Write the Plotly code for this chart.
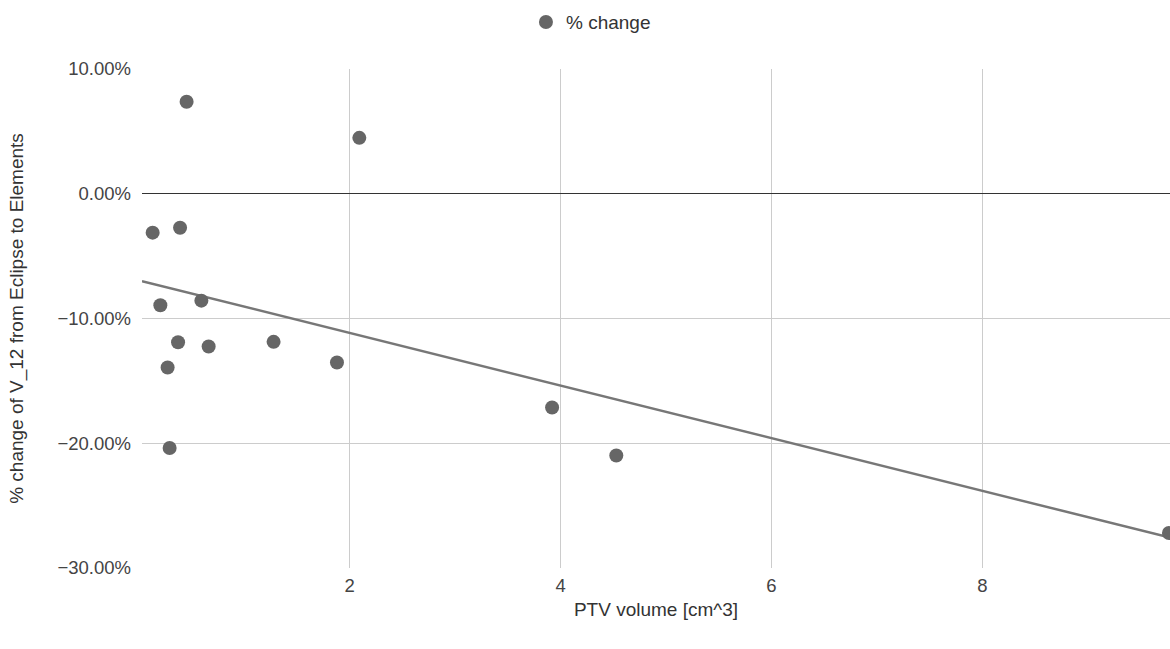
import numpy as np
import plotly.graph_objects as go

# PTV volume [cm^3]
ptv_volume = [0.132, 0.392, 0.205, 0.594, 0.373, 0.663, 1.279, 1.880, 0.274, 0.293,
              0.454, 2.092, 3.920, 4.529, 9.77]
# % change (fraction)
pct_change = [-0.0312, -0.0272, -0.0894, -0.0857, -0.1190, -0.1225, -0.1187, -0.1353,
              -0.1393, -0.2038, 0.0737, 0.0448, -0.1713, -0.2098, -0.2720]

x_range = [0.031, 9.78]
y_ticks = [-0.3, -0.2, -0.1, 0.0, 0.1]
x_ticks = [2, 4, 6, 8]

slope, intercept = np.polyfit(ptv_volume, pct_change, 1)
trend_x = np.array(x_range)
trend_y = slope * trend_x + intercept

fig = go.Figure()
fig.add_trace(go.Scatter(
    x=trend_x, y=trend_y, mode="lines",
    line=dict(color="#777777", width=2.5),
    showlegend=False, hoverinfo="skip"))
fig.add_trace(go.Scatter(
    x=ptv_volume, y=pct_change, mode="markers", name="% change",
    marker=dict(color="#666666", size=14, line=dict(width=0)),
    cliponaxis=True))

fig.update_layout(
    width=1170, height=649,
    margin=dict(l=142, r=0, t=69, b=81, autoexpand=False),
    paper_bgcolor="white", plot_bgcolor="white",
    font=dict(family="Liberation Sans, Arial, sans-serif", size=18.5, color="#444444"),
    legend=dict(orientation="h", x=0.3735, xanchor="left", y=1.094, yanchor="middle",
                font=dict(size=19, color="#333333"), itemsizing="trace"),
    xaxis=dict(range=x_range, tickvals=x_ticks, showgrid=True, gridcolor="#cccccc",
               gridwidth=1, zeroline=False, showline=False, ticks="",
               ticklabelstandoff=4,
               title=dict(text="PTV volume [cm^3]", font=dict(size=19, color="#333333"), standoff=8)),
    yaxis=dict(range=[-0.30, 0.10], tickvals=y_ticks, tickformat=".2%",
               showgrid=True, gridcolor="#cccccc", gridwidth=1,
               zeroline=True, zerolinecolor="#333333", zerolinewidth=1,
               showline=False, ticks="", ticklabelstandoff=10,
               title=dict(text="% change of V_12 from Eclipse to Elements",
                          font=dict(size=19, color="#333333"), standoff=28)),
)

fig.write_html("out.html", config={"displayModeBar": False},
               post_script="document.body.style.margin='0';document.body.style.overflow='hidden';")
